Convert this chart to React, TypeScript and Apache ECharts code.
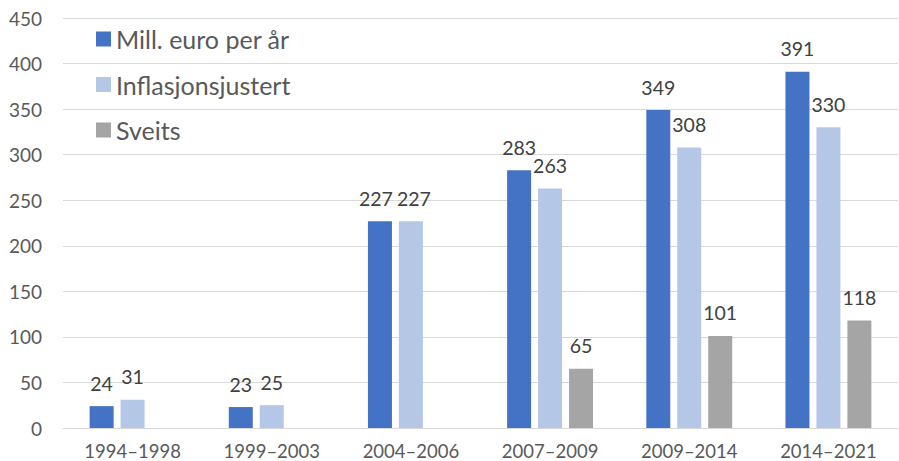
import React, { useEffect, useRef } from "react";
import * as echarts from "echarts";

const categories = ["1994–1998", "1999–2003", "2004–2006", "2007–2009", "2009–2014", "2014–2021"];
const millEuro = [24, 23, 227, 283, 349, 391];
const inflasjon = [31, 25, 227, 263, 308, 330];
const sveits: (number | null)[] = [null, null, null, 65, 101, 118];
const seriesNames = ["Mill. euro per år", "Inflasjonsjustert", "Sveits"];
const colors = ["#4472C4", "#B4C7E7", "#A5A5A5"];

const FONT = "Lato";

export default function App() {
  const ref = useRef<HTMLDivElement>(null);
  useEffect(() => {
    document.body.style.margin = "0";
    const chart = echarts.init(ref.current!, null, { renderer: "svg" });
    const label = {
      show: true,
      position: "top" as const,
      distance: 13,
      color: "#404040",
      fontFamily: FONT,
      fontSize: 19.5,
    };
    // nudge overlapping labels apart (equal neighbouring values)
    const withNudge = (data: (number | null)[], dx: number) =>
      data.map((v, i) =>
        i === 2 ? { value: v, label: { offset: [dx, 0] } } : v
      );
    const mk = (name: string, data: any[], color: string) => ({
      type: "bar" as const,
      name,
      data,
      barWidth: 24,
      barGap: "29%",
      itemStyle: { color },
      label,
    });
    chart.setOption({
      animation: false,
      backgroundColor: "#ffffff",
      grid: { left: 63, right: 1, top: 18, bottom: 33, containLabel: false },
      legend: {
        orient: "vertical",
        left: 91,
        top: 21.5,
        itemWidth: 15,
        itemHeight: 15,
        itemGap: 20.5,
        icon: "rect",
        textStyle: { fontFamily: FONT, fontSize: 25, color: "#595959" },
        data: seriesNames,
      },
      xAxis: {
        type: "category",
        data: categories,
        axisTick: { show: false },
        axisLine: { lineStyle: { color: "#D9D9D9", width: 1 } },
        axisLabel: { color: "#595959", fontFamily: FONT, fontSize: 18.5, margin: 13 },
      },
      yAxis: {
        type: "value",
        min: 0,
        max: 450,
        interval: 50,
        axisLine: { show: false },
        axisTick: { show: false },
        splitLine: { lineStyle: { color: "#D9D9D9", width: 1 } },
        axisLabel: { color: "#595959", fontFamily: FONT, fontSize: 19, margin: 21 },
      },
      series: [
        mk(seriesNames[0], withNudge(millEuro, -4), colors[0]),
        mk(seriesNames[1], withNudge(inflasjon, 3), colors[1]),
        mk(seriesNames[2], sveits, colors[2]),
      ],
    });
    return () => chart.dispose();
  }, []);
  return (
    <div
      ref={ref}
      style={{ position: "absolute", left: 0, top: 0, width: 899, height: 461 }}
    />
  );
}
